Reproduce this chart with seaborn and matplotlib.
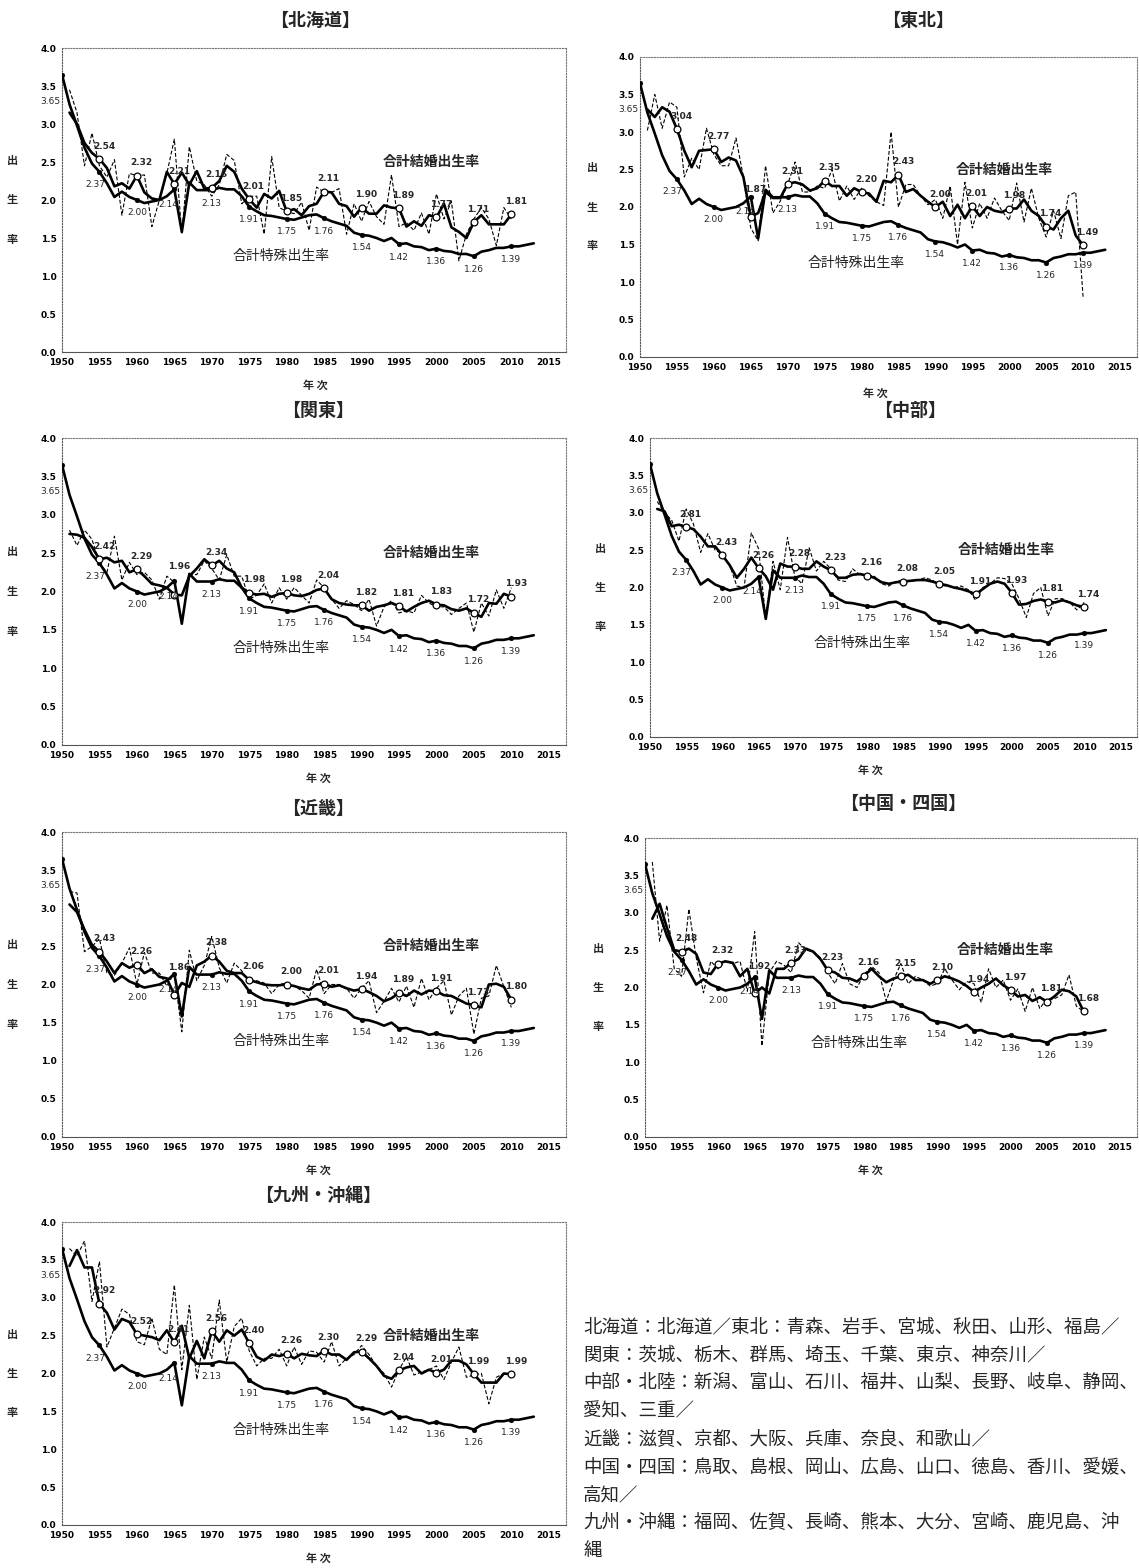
import matplotlib
matplotlib.use("Agg")
import matplotlib.pyplot as plt
import seaborn as sns
import pandas as pd

sns.set_theme(style="white")
plt.rcParams['font.family'] = ['Noto Sans CJK JP', 'DejaVu Sans']

# ---------------- data ----------------
tfr_years = list(range(1950, 2014))
tfr = [3.65, 3.26, 2.98, 2.69, 2.48, 2.37, 2.22, 2.04, 2.11, 2.04,
       2.00, 1.96, 1.98, 2.00, 2.05, 2.14, 1.58, 2.23, 2.13, 2.13,
       2.13, 2.16, 2.14, 2.14, 2.05, 1.91, 1.85, 1.80, 1.79, 1.77,
       1.75, 1.74, 1.77, 1.80, 1.81, 1.76, 1.72, 1.69, 1.66, 1.57,
       1.54, 1.53, 1.50, 1.46, 1.50, 1.42, 1.43, 1.39, 1.38, 1.34,
       1.36, 1.33, 1.32, 1.29, 1.29, 1.26, 1.32, 1.34, 1.37, 1.37,
       1.39, 1.39, 1.41, 1.43]
tfr_mark_years = [1950, 1955, 1960, 1965, 1970, 1975, 1980, 1985, 1990, 1995, 2000, 2005, 2010]
tfr_marks = [3.65, 2.37, 2.00, 2.14, 2.13, 1.91, 1.75, 1.76, 1.54, 1.42, 1.36, 1.26, 1.39]

mf_years = list(range(1951, 2011))
mark_years = [1955, 1960, 1965, 1970, 1975, 1980, 1985, 1990, 1995, 2000, 2005, 2010]

hokkaido_annual = [3.45, 3.15, 2.45, 2.88, 2.45, 2.30, 2.53, 1.80, 2.35, 2.32,
                   2.33, 1.65, 2.00, 2.35, 2.80, 1.55, 2.70, 2.25, 2.20, 2.05,
                   2.20, 2.60, 2.52, 1.95, 2.05, 2.05, 1.55, 2.57, 1.90, 1.85,
                   1.82, 1.97, 1.60, 2.17, 2.10, 2.10, 2.15, 1.55, 1.95, 1.72,
                   1.98, 1.78, 1.68, 2.33, 1.65, 1.70, 1.60, 1.83, 1.55, 2.08,
                   1.75, 1.98, 1.20, 1.55, 1.75, 1.90, 1.75, 1.40, 1.90, 1.75]
hokkaido_smooth = [3.15, 3.00, 2.75, 2.62, 2.54, 2.42, 2.18, 2.22, 2.15, 2.32,
                   2.10, 2.02, 2.00, 2.37, 2.21, 2.36, 2.20, 2.38, 2.15, 2.16,
                   2.25, 2.45, 2.37, 2.15, 2.01, 1.90, 2.08, 2.02, 2.12, 1.85,
                   1.88, 1.80, 1.92, 1.95, 2.11, 2.10, 1.95, 1.92, 1.78, 1.90,
                   1.82, 1.82, 1.93, 1.90, 1.89, 1.65, 1.72, 1.66, 1.80, 1.77,
                   1.95, 1.64, 1.58, 1.50, 1.71, 1.80, 1.68, 1.68, 1.68, 1.81]
hokkaido_marks = [2.54, 2.32, 2.21, 2.16, 2.01, 1.85, 2.11, 1.90, 1.89, 1.77, 1.71, 1.81]

tohoku_annual = [3.02, 3.50, 3.05, 3.40, 3.33, 2.40, 2.65, 2.50, 3.05, 2.70,
                 2.55, 2.55, 2.92, 2.40, 1.72, 1.55, 2.55, 1.92, 2.08, 2.30,
                 2.60, 2.20, 2.20, 2.28, 2.25, 2.50, 2.08, 2.28, 2.10, 2.25,
                 2.15, 2.07, 2.02, 3.00, 2.00, 2.30, 2.30, 2.15, 2.03, 2.10,
                 1.85, 2.28, 1.50, 2.33, 1.72, 2.05, 1.85, 2.12, 1.95, 1.82,
                 2.32, 1.80, 2.25, 1.85, 1.60, 1.95, 1.58, 2.15, 2.20, 0.80]
tohoku_smooth = [3.30, 3.20, 3.33, 3.27, 3.04, 2.75, 2.53, 2.75, 2.76, 2.77,
                 2.60, 2.66, 2.62, 2.40, 1.87, 1.92, 2.20, 2.12, 2.12, 2.31,
                 2.33, 2.30, 2.22, 2.25, 2.35, 2.28, 2.28, 2.15, 2.25, 2.20,
                 2.18, 2.07, 2.35, 2.33, 2.43, 2.20, 2.24, 2.15, 2.07, 2.00,
                 2.07, 1.88, 2.03, 1.85, 2.01, 1.88, 2.00, 1.95, 1.93, 1.98,
                 1.98, 2.10, 1.95, 1.88, 1.74, 1.70, 1.85, 1.95, 1.62, 1.49]
tohoku_marks = [3.04, 2.77, 1.87, 2.31, 2.35, 2.20, 2.43, 2.00, 2.01, 1.98, 1.74, 1.49]

kanto_annual = [2.80, 2.60, 2.80, 2.68, 2.37, 2.25, 2.72, 2.15, 2.38, 2.22,
                2.25, 2.15, 1.90, 2.20, 2.12, 1.60, 2.22, 2.22, 2.40, 2.30,
                2.15, 2.48, 2.20, 2.20, 1.90, 1.95, 2.10, 1.85, 2.05, 1.90,
                2.05, 1.95, 1.85, 2.15, 2.05, 1.90, 1.78, 1.88, 1.83, 1.75,
                1.90, 1.55, 1.80, 1.88, 1.72, 1.75, 1.72, 1.95, 1.85, 1.80,
                1.80, 1.70, 1.78, 1.85, 1.47, 1.85, 1.68, 2.02, 1.78, 2.05]
kanto_smooth = [2.75, 2.74, 2.70, 2.58, 2.42, 2.44, 2.38, 2.40, 2.25, 2.29,
                2.20, 2.10, 2.08, 2.05, 1.96, 1.95, 2.20, 2.30, 2.42, 2.34,
                2.40, 2.30, 2.25, 2.05, 1.98, 1.96, 1.97, 1.93, 1.97, 1.98,
                1.95, 1.94, 1.97, 2.02, 2.04, 1.90, 1.85, 1.83, 1.82, 1.82,
                1.75, 1.80, 1.82, 1.85, 1.81, 1.74, 1.80, 1.85, 1.88, 1.83,
                1.82, 1.77, 1.75, 1.78, 1.72, 1.67, 1.85, 1.84, 1.97, 1.93]
kanto_marks = [2.42, 2.29, 1.96, 2.34, 1.98, 1.98, 2.04, 1.82, 1.81, 1.83, 1.72, 1.93]

chubu_annual = [3.15, 3.00, 2.90, 2.62, 3.05, 2.85, 2.47, 2.72, 2.50, 2.45,
                2.30, 2.02, 2.00, 2.73, 2.52, 1.58, 2.35, 1.97, 2.67, 2.15,
                2.05, 2.53, 2.22, 2.35, 2.25, 2.10, 2.08, 2.25, 2.17, 2.17,
                2.15, 2.05, 2.02, 2.08, 2.10, 2.08, 2.10, 2.13, 2.10, 2.03,
                2.02, 2.00, 2.02, 1.97, 1.83, 2.00, 2.05, 2.13, 2.12, 2.05,
                1.85, 1.60, 1.92, 2.00, 1.62, 1.85, 1.85, 1.80, 1.70, 1.80]
chubu_smooth = [3.05, 3.02, 2.82, 2.84, 2.81, 2.78, 2.68, 2.55, 2.55, 2.43,
                2.30, 2.13, 2.25, 2.40, 2.26, 2.15, 1.97, 2.32, 2.28, 2.28,
                2.25, 2.25, 2.35, 2.28, 2.23, 2.13, 2.13, 2.17, 2.18, 2.16,
                2.13, 2.07, 2.05, 2.07, 2.08, 2.09, 2.10, 2.10, 2.08, 2.05,
                2.03, 2.00, 1.98, 1.95, 1.91, 1.98, 2.05, 2.08, 2.05, 1.93,
                1.77, 1.78, 1.82, 1.84, 1.81, 1.80, 1.83, 1.80, 1.76, 1.74]
chubu_marks = [2.81, 2.43, 2.26, 2.28, 2.23, 2.16, 2.08, 2.05, 1.91, 1.93, 1.81, 1.74]

kinki_annual = [3.22, 3.20, 2.43, 2.50, 2.60, 2.15, 2.12, 2.28, 2.48, 2.00,
                2.42, 2.15, 2.15, 1.98, 2.15, 1.38, 2.45, 2.05, 2.25, 2.63,
                2.22, 2.02, 2.28, 2.18, 2.02, 2.05, 2.02, 1.88, 2.00, 2.02,
                1.98, 1.92, 1.82, 2.20, 1.88, 2.00, 2.00, 1.95, 1.82, 1.95,
                2.05, 1.63, 1.78, 1.95, 1.77, 1.98, 1.70, 2.08, 1.80, 1.95,
                2.05, 1.60, 1.85, 1.95, 1.35, 1.82, 1.85, 2.25, 1.97, 1.70]
kinki_smooth = [3.05, 2.95, 2.72, 2.52, 2.43, 2.30, 2.15, 2.28, 2.22, 2.26,
                2.15, 2.20, 2.10, 2.08, 1.86, 2.02, 1.97, 2.25, 2.30, 2.38,
                2.30, 2.18, 2.15, 2.15, 2.06, 2.03, 2.00, 1.99, 1.99, 2.00,
                1.98, 1.95, 1.93, 2.00, 2.01, 1.97, 1.99, 1.95, 1.92, 1.94,
                1.90, 1.85, 1.78, 1.82, 1.89, 1.85, 1.92, 1.87, 1.92, 1.91,
                1.86, 1.85, 1.80, 1.75, 1.73, 1.70, 2.00, 2.01, 1.97, 1.80]
kinki_marks = [2.43, 2.26, 1.86, 2.38, 2.06, 2.00, 2.01, 1.94, 1.89, 1.91, 1.73, 1.80]

chushi_annual = [3.68, 2.62, 3.10, 2.25, 2.15, 3.05, 2.40, 1.93, 2.35, 2.25,
                 2.35, 2.32, 2.35, 1.95, 2.75, 1.22, 2.20, 2.35, 2.30, 2.20,
                 2.60, 2.50, 2.48, 2.40, 2.20, 2.05, 2.32, 2.05, 2.00, 2.18,
                 2.28, 2.20, 1.82, 2.10, 2.32, 2.05, 2.15, 2.10, 2.02, 2.05,
                 2.25, 2.10, 1.97, 2.08, 2.05, 1.80, 2.25, 2.00, 2.10, 1.83,
                 1.98, 1.68, 2.00, 1.72, 1.85, 1.85, 1.90, 2.17, 1.75, 1.68]
chushi_smooth = [2.92, 3.12, 2.80, 2.50, 2.48, 2.52, 2.45, 2.20, 2.18, 2.32,
                 2.35, 2.33, 2.15, 2.25, 1.92, 2.00, 1.92, 2.25, 2.25, 2.33,
                 2.38, 2.52, 2.48, 2.38, 2.23, 2.20, 2.13, 2.12, 2.08, 2.16,
                 2.25, 2.15, 2.07, 2.12, 2.15, 2.17, 2.10, 2.10, 2.05, 2.10,
                 2.15, 2.12, 2.08, 2.02, 1.94, 2.00, 2.05, 2.12, 2.03, 1.97,
                 1.88, 1.90, 1.82, 1.87, 1.81, 1.88, 1.97, 1.95, 1.88, 1.68]
chushi_marks = [2.48, 2.32, 1.92, 2.33, 2.23, 2.16, 2.15, 2.10, 1.94, 1.97, 1.81, 1.68]

kyushu_annual = [3.65, 3.55, 3.75, 2.95, 3.48, 2.35, 2.60, 2.85, 2.78, 2.42,
                 2.38, 2.73, 2.32, 2.25, 3.17, 2.05, 2.90, 1.92, 2.48, 2.20,
                 2.97, 2.15, 2.62, 2.73, 2.30, 2.10, 2.20, 2.20, 2.32, 2.10,
                 2.35, 2.12, 2.30, 2.28, 2.15, 2.42, 2.10, 2.20, 2.25, 2.37,
                 2.25, 2.10, 2.00, 1.82, 2.05, 2.22, 1.98, 2.02, 2.05, 2.10,
                 1.92, 2.15, 2.35, 1.95, 1.98, 2.00, 1.60, 1.95, 2.00, 2.00]
kyushu_smooth = [3.42, 3.63, 3.40, 3.40, 2.92, 2.80, 2.58, 2.72, 2.68, 2.52,
                 2.50, 2.48, 2.44, 2.57, 2.41, 2.63, 2.20, 2.43, 2.20, 2.56,
                 2.42, 2.57, 2.50, 2.58, 2.40, 2.22, 2.17, 2.25, 2.23, 2.26,
                 2.20, 2.26, 2.24, 2.23, 2.30, 2.25, 2.25, 2.18, 2.28, 2.29,
                 2.20, 2.10, 1.97, 1.93, 2.04, 2.08, 2.10, 2.00, 2.05, 2.01,
                 2.05, 2.17, 2.17, 2.12, 1.99, 1.88, 1.88, 1.88, 2.00, 1.99]
kyushu_marks = [2.92, 2.52, 2.41, 2.56, 2.40, 2.26, 2.30, 2.29, 2.04, 2.01, 1.99, 1.99]

region_titles = ["【北海道】", "【東北】", "【関東】", "【中部】", "【近畿】", "【中国・四国】", "【九州・沖縄】"]

note_lines = [
    "北海道：北海道／東北：青森、岩手、宮城、秋田、山形、福島／",
    "関東：茨城、栃木、群馬、埼玉、千葉、東京、神奈川／",
    "中部・北陸：新潟、富山、石川、福井、山梨、長野、岐阜、静岡、",
    "愛知、三重／",
    "近畿：滋賀、京都、大阪、兵庫、奈良、和歌山／",
    "中国・四国：鳥取、島根、岡山、広島、山口、徳島、香川、愛媛、",
    "高知／",
    "九州・沖縄：福岡、佐賀、長崎、熊本、大分、宮崎、鹿児島、沖",
    "縄",
]

# ---------------- layout (pixels) ----------------
W, H = 1139, 1568
# left, right, top, bottom of plot frame; title (x, y); xlabel (x, y); ylabel x
panels = [
    dict(data=(hokkaido_annual, hokkaido_smooth, hokkaido_marks), box=(62, 566, 48, 352),
         title=(315, 20), xl=(315, 385), yl=12),
    dict(data=(tohoku_annual, tohoku_smooth, tohoku_marks), box=(640, 1137, 57, 357),
         title=(918, 20), xl=(875, 393), yl=592),
    dict(data=(kanto_annual, kanto_smooth, kanto_marks), box=(62, 566, 438, 745),
         title=(318, 410), xl=(318, 778), yl=12),
    dict(data=(chubu_annual, chubu_smooth, chubu_marks), box=(650, 1137, 438, 737),
         title=(910, 410), xl=(870, 770), yl=600),
    dict(data=(kinki_annual, kinki_smooth, kinki_marks), box=(62, 566, 832, 1137),
         title=(318, 808), xl=(318, 1170), yl=12),
    dict(data=(chushi_annual, chushi_smooth, chushi_marks), box=(645, 1137, 838, 1137),
         title=(903, 803), xl=(870, 1170), yl=598),
    dict(data=(kyushu_annual, kyushu_smooth, kyushu_marks), box=(62, 566, 1222, 1525),
         title=(318, 1195), xl=(318, 1558), yl=12),
]

fig = plt.figure(figsize=(W / 100, H / 100), dpi=100)
fig.patch.set_facecolor("white")

tfr_df = pd.DataFrame({"year": tfr_years, "rate": tfr})
tfr_mark_df = pd.DataFrame({"year": tfr_mark_years, "rate": tfr_marks})


def fx(px):
    return px / W


def fy(py):
    return 1 - py / H


for spec, title in zip(panels, region_titles):
    annual, smooth, marks = spec["data"]
    l, r, t, b = spec["box"]
    ax = fig.add_axes([fx(l), fy(b), (r - l) / W, (b - t) / H])
    ax.set_facecolor("white")

    mf_df = pd.DataFrame({"year": mf_years, "annual": annual, "smooth": smooth})
    mk_df = pd.DataFrame({"year": mark_years, "rate": marks})

    # total fertility rate
    sns.lineplot(data=tfr_df, x="year", y="rate", ax=ax, color="black", lw=1.9, zorder=3)
    sns.scatterplot(data=tfr_mark_df, x="year", y="rate", ax=ax, color="black", s=12,
                    edgecolor="black", zorder=4)
    # total marital fertility rate: annual (dashed) and smoothed (thick)
    sns.lineplot(data=mf_df, x="year", y="annual", ax=ax, color="black", lw=0.8,
                 linestyle=(0, (3.5, 1.8)), zorder=2)
    sns.lineplot(data=mf_df, x="year", y="smooth", ax=ax, color="black", lw=1.9, zorder=3)
    sns.scatterplot(data=mk_df, x="year", y="rate", ax=ax, facecolor="white",
                    edgecolor="black", linewidth=0.9, s=24, zorder=5)

    # value labels
    for yr, v in zip(tfr_mark_years, tfr_marks):
        if yr == 1950:
            ax.text(1948.4, 3.30, f"{v:.2f}", ha="center", va="center", fontsize=6.5,
                    family="DejaVu Sans", clip_on=False)
        elif yr == 1955:
            ax.text(yr - 0.6, v - 0.17, f"{v:.2f}", ha="center", va="center", fontsize=6.5,
                    family="DejaVu Sans", zorder=1)
        elif yr == 1965:
            ax.text(yr - 0.8, v - 0.2, f"{v:.2f}", ha="center", va="center", fontsize=6.5,
                    family="DejaVu Sans", zorder=6)
        else:
            ax.text(yr, v - 0.17, f"{v:.2f}", ha="center", va="center", fontsize=6.5,
                    family="DejaVu Sans", zorder=6)
    for yr, v in zip(mark_years, marks):
        dy = 0.17
        if yr == 1965 and v < 2.1:
            dy = 0.36
        ax.text(yr + 0.6, v + dy, f"{v:.2f}", ha="center", va="center", fontsize=6.5,
                fontweight="bold", family="DejaVu Sans", zorder=6)

    ax.text(1999.3, 2.50, "合計結婚出生率", ha="center", va="center", fontsize=10,
            fontweight="bold")
    ax.text(1979.3, 1.26, "合計特殊出生率", ha="center", va="center", fontsize=10)

    ax.set_xlim(1950, 2017.3)
    ax.set_ylim(0, 4.0)
    ax.set_xticks(range(1950, 2016, 5))
    ax.set_yticks([i * 0.5 for i in range(9)])
    ax.set_yticklabels([f"{i * 0.5:.1f}" for i in range(9)])
    ax.tick_params(axis="both", labelsize=6.5, length=2, width=0.6, pad=2, colors="black",
                   direction="out")
    for lab in ax.get_xticklabels() + ax.get_yticklabels():
        lab.set_family("DejaVu Sans")
        lab.set_fontweight("bold")
    ax.set_xlabel("")
    ax.set_ylabel("")
    ax.grid(False)
    for side, sp in ax.spines.items():
        sp.set_linestyle((0, (1, 1.5)))
        sp.set_color("#777777")
        sp.set_linewidth(0.8)
    ax.spines["bottom"].set_linestyle("-")
    ax.spines["bottom"].set_color("#555555")
    ax.spines["left"].set_color("#555555")

    # panel title and axis captions
    fig.text(fx(spec["title"][0]), fy(spec["title"][1]), title, ha="center", va="center",
             fontsize=13, fontweight="bold")
    fig.text(fx(spec["xl"][0]), fy(spec["xl"][1]), "年 次", ha="center", va="center",
             fontsize=8, fontweight="bold")
    h = b - t
    for frac, ch in zip([0.37, 0.50, 0.63], ["出", "生", "率"]):
        fig.text(fx(spec["yl"]), fy(t + frac * h), ch, ha="center", va="center",
                 fontsize=8, fontweight="bold")

# prefecture grouping note
for i, line in enumerate(note_lines):
    fig.text(fx(583), fy(1327 + i * 28), line, ha="left", va="center", fontsize=13.3)

fig.savefig("out.png", dpi=100, facecolor="white")
